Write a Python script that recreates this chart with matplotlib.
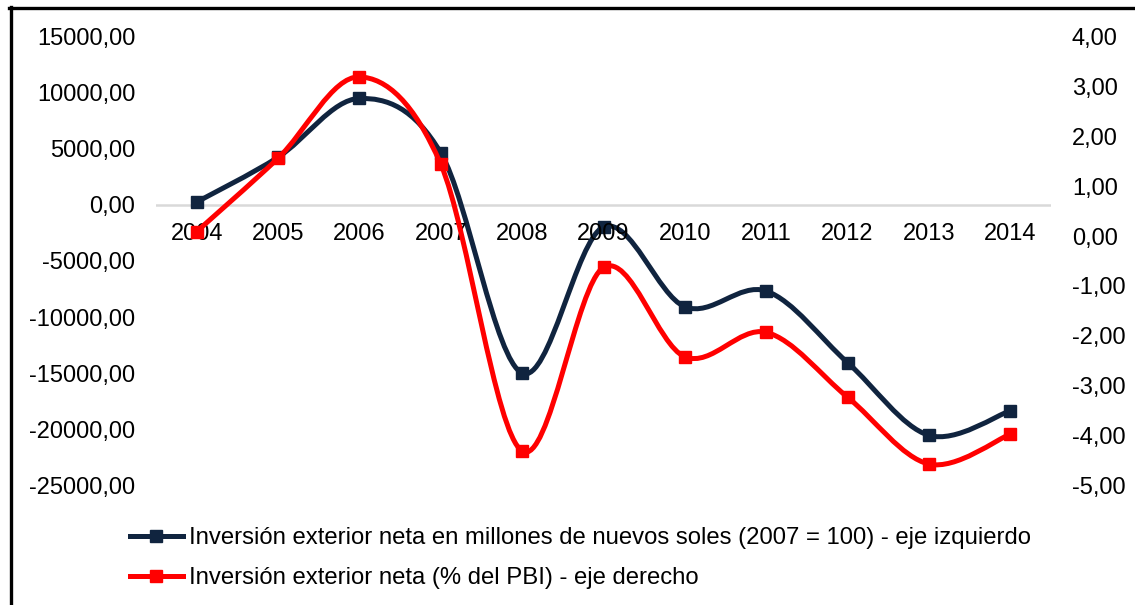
import matplotlib
matplotlib.use("Agg")
import matplotlib.pyplot as plt
from matplotlib.path import Path
from matplotlib.patches import PathPatch
from matplotlib.lines import Line2D
import numpy as np

plt.rcParams['font.family'] = ['Liberation Sans', 'DejaVu Sans']

years = ["2004", "2005", "2006", "2007", "2008", "2009", "2010", "2011", "2012", "2013", "2014"]
ien_millones = [250, 4245, 9480, 4635, -14990, -1970, -9075, -7680, -14050, -20530, -18340]
ien_pbi = [0.09, 1.56, 3.19, 1.44, -4.31, -0.63, -2.42, -1.93, -3.23, -4.57, -3.97]

left_ticks = [15000, 10000, 5000, 0, -5000, -10000, -15000, -20000, -25000]
right_ticks = [4, 3, 2, 1, 0, -1, -2, -3, -4, -5]

label_left = "Inversión exterior neta en millones de nuevos soles (2007 = 100) - eje izquierdo"
label_right = "Inversión exterior neta (% del PBI) - eje derecho"

NAVY = "#10243f"
RED = "#ff0000"
FS = 17.0
LFS = 17.2

W, H = 1135, 605
fig = plt.figure(figsize=(W / 100, H / 100), dpi=100)
left, right, top, bottom = 156, 1051, 36.5, 485.5
ax = fig.add_axes([left / W, 1 - bottom / H, (right - left) / W, (bottom - top) / H])
ax2 = ax.twinx()


def smooth_path(xs, ys):
    pts = np.column_stack([xs, ys]).astype(float)
    n = len(pts)
    verts = [pts[0]]
    codes = [Path.MOVETO]
    for i in range(n - 1):
        p0 = pts[max(i - 1, 0)]
        p1 = pts[i]
        p2 = pts[i + 1]
        p3 = pts[min(i + 2, n - 1)]
        c1 = p1 + (p2 - p0) / 6.0
        c2 = p2 - (p3 - p1) / 6.0
        verts += [c1, c2, p2]
        codes += [Path.CURVE4] * 3
    return Path(verts, codes)


x = np.arange(len(years))

for a in (ax, ax2):
    for s in a.spines.values():
        s.set_visible(False)
    a.set_xlim(-0.5, len(years) - 0.5)

ax.set_ylim(-25000, 15000)
ax2.set_ylim(-5, 4)

ax.axhline(0, color="#d9d9d9", lw=1.8, zorder=1)

ax.add_patch(PathPatch(smooth_path(x, ien_millones), fill=False, ec=NAVY, lw=3.6,
                       capstyle='round', joinstyle='round', zorder=3))
ax.plot(x, ien_millones, ls='none', marker='s', ms=8.8, color=NAVY, zorder=4)

ax2.add_patch(PathPatch(smooth_path(x, ien_pbi), fill=False, ec=RED, lw=3.6,
                        capstyle='round', joinstyle='round', zorder=3))
ax2.plot(x, ien_pbi, ls='none', marker='s', ms=8.8, color=RED, zorder=4)

ax.set_xticks([])
ax.set_yticks(left_ticks)
ax.set_yticklabels([f"{v:.2f}".replace('.', ',') for v in left_ticks], fontsize=FS)
ax.tick_params(axis='y', length=0, pad=15)
ax2.set_yticks(right_ticks)
ax2.set_yticklabels([f"{v:.2f}".replace('.', ',') for v in right_ticks], fontsize=FS)
ax2.tick_params(axis='y', length=0, pad=15)

for i, yl in enumerate(years):
    ax.annotate(yl, (i, 0), xytext=(0, -21.3), textcoords='offset points',
                ha='center', va='center', fontsize=FS, zorder=5)

handles = [
    Line2D([], [], color=NAVY, lw=3.6, marker='s', ms=8.8),
    Line2D([], [], color=RED, lw=3.6, marker='s', ms=8.8),
]
fig.legend(handles, [label_left, label_right], loc='upper left',
           bbox_to_anchor=(130 / W, 1 - 527 / H), frameon=False, fontsize=LFS,
           handlelength=2.2, handletextpad=0.25, labelspacing=0.77, borderpad=0,
           borderaxespad=0)

# outer frame (top and left edges)
fig.add_artist(Line2D([9 / W, 1], [1 - 7.5 / H, 1 - 7.5 / H], color='black', lw=2.4,
                      transform=fig.transFigure))
fig.add_artist(Line2D([10.5 / W, 10.5 / W], [0, 1 - 6.5 / H], color='black', lw=2.4,
                      transform=fig.transFigure))

fig.savefig("out.png", dpi=100)
